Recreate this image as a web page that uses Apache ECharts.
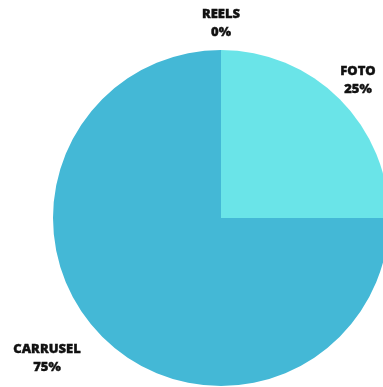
<!DOCTYPE html>
<html>
<head>
<meta charset="utf-8">
<script src="https://cdn.jsdelivr.net/npm/echarts@6/dist/echarts.min.js"></script>
<style>
  html, body { margin: 0; padding: 0; background: #ffffff; }
  #chart { width: 383px; height: 387px; }
</style>
</head>
<body>
<div id="chart"></div>
<script>
// Share of posts by format
const categories = ['REELS', 'FOTO', 'CARRUSEL'];
const values = [0, 25, 75];
const colors = ['#3fb3d3', '#6ae4e8', '#44b8d6'];

// Where each label block sits (centre of the two-line label)
const labelSpots = [
  { x: 221, y: 23 },
  { x: 358, y: 80 },
  { x: 47, y: 358 }
];

const chart = echarts.init(document.getElementById('chart'), null, { renderer: 'canvas' });

chart.setOption({
  animation: false,
  backgroundColor: '#ffffff',
  series: [{
    type: 'pie',
    center: [221, 218],
    radius: [0, 168],
    startAngle: 90,
    clockwise: true,
    stillShowZeroSum: true,
    minShowLabelAngle: 0,
    data: categories.map((name, i) => ({
      name,
      value: values[i],
      itemStyle: { color: colors[i] }
    })),
    itemStyle: { borderWidth: 0 },
    emphasis: { disabled: true },
    label: {
      show: true,
      position: 'inside',
      overflow: 'none',
      formatter: p => p.name + '\n' + p.value + '%',
      fontFamily: 'Open Sans',
      fontWeight: 800,
      fontSize: 13,
      lineHeight: 18,
      color: '#111111',
      textBorderColor: '#111111',
      textBorderWidth: 0.4,
      align: 'center'
    },
    labelLine: { show: false },
    labelLayout: function (params) {
      const s = labelSpots[params.dataIndex];
      return {
        x: s.x,
        y: s.y,
        align: 'center',
        verticalAlign: 'middle',
        hideOverlap: false,
        moveOverlap: false
      };
    }
  }]
});
</script>
</body>
</html>
